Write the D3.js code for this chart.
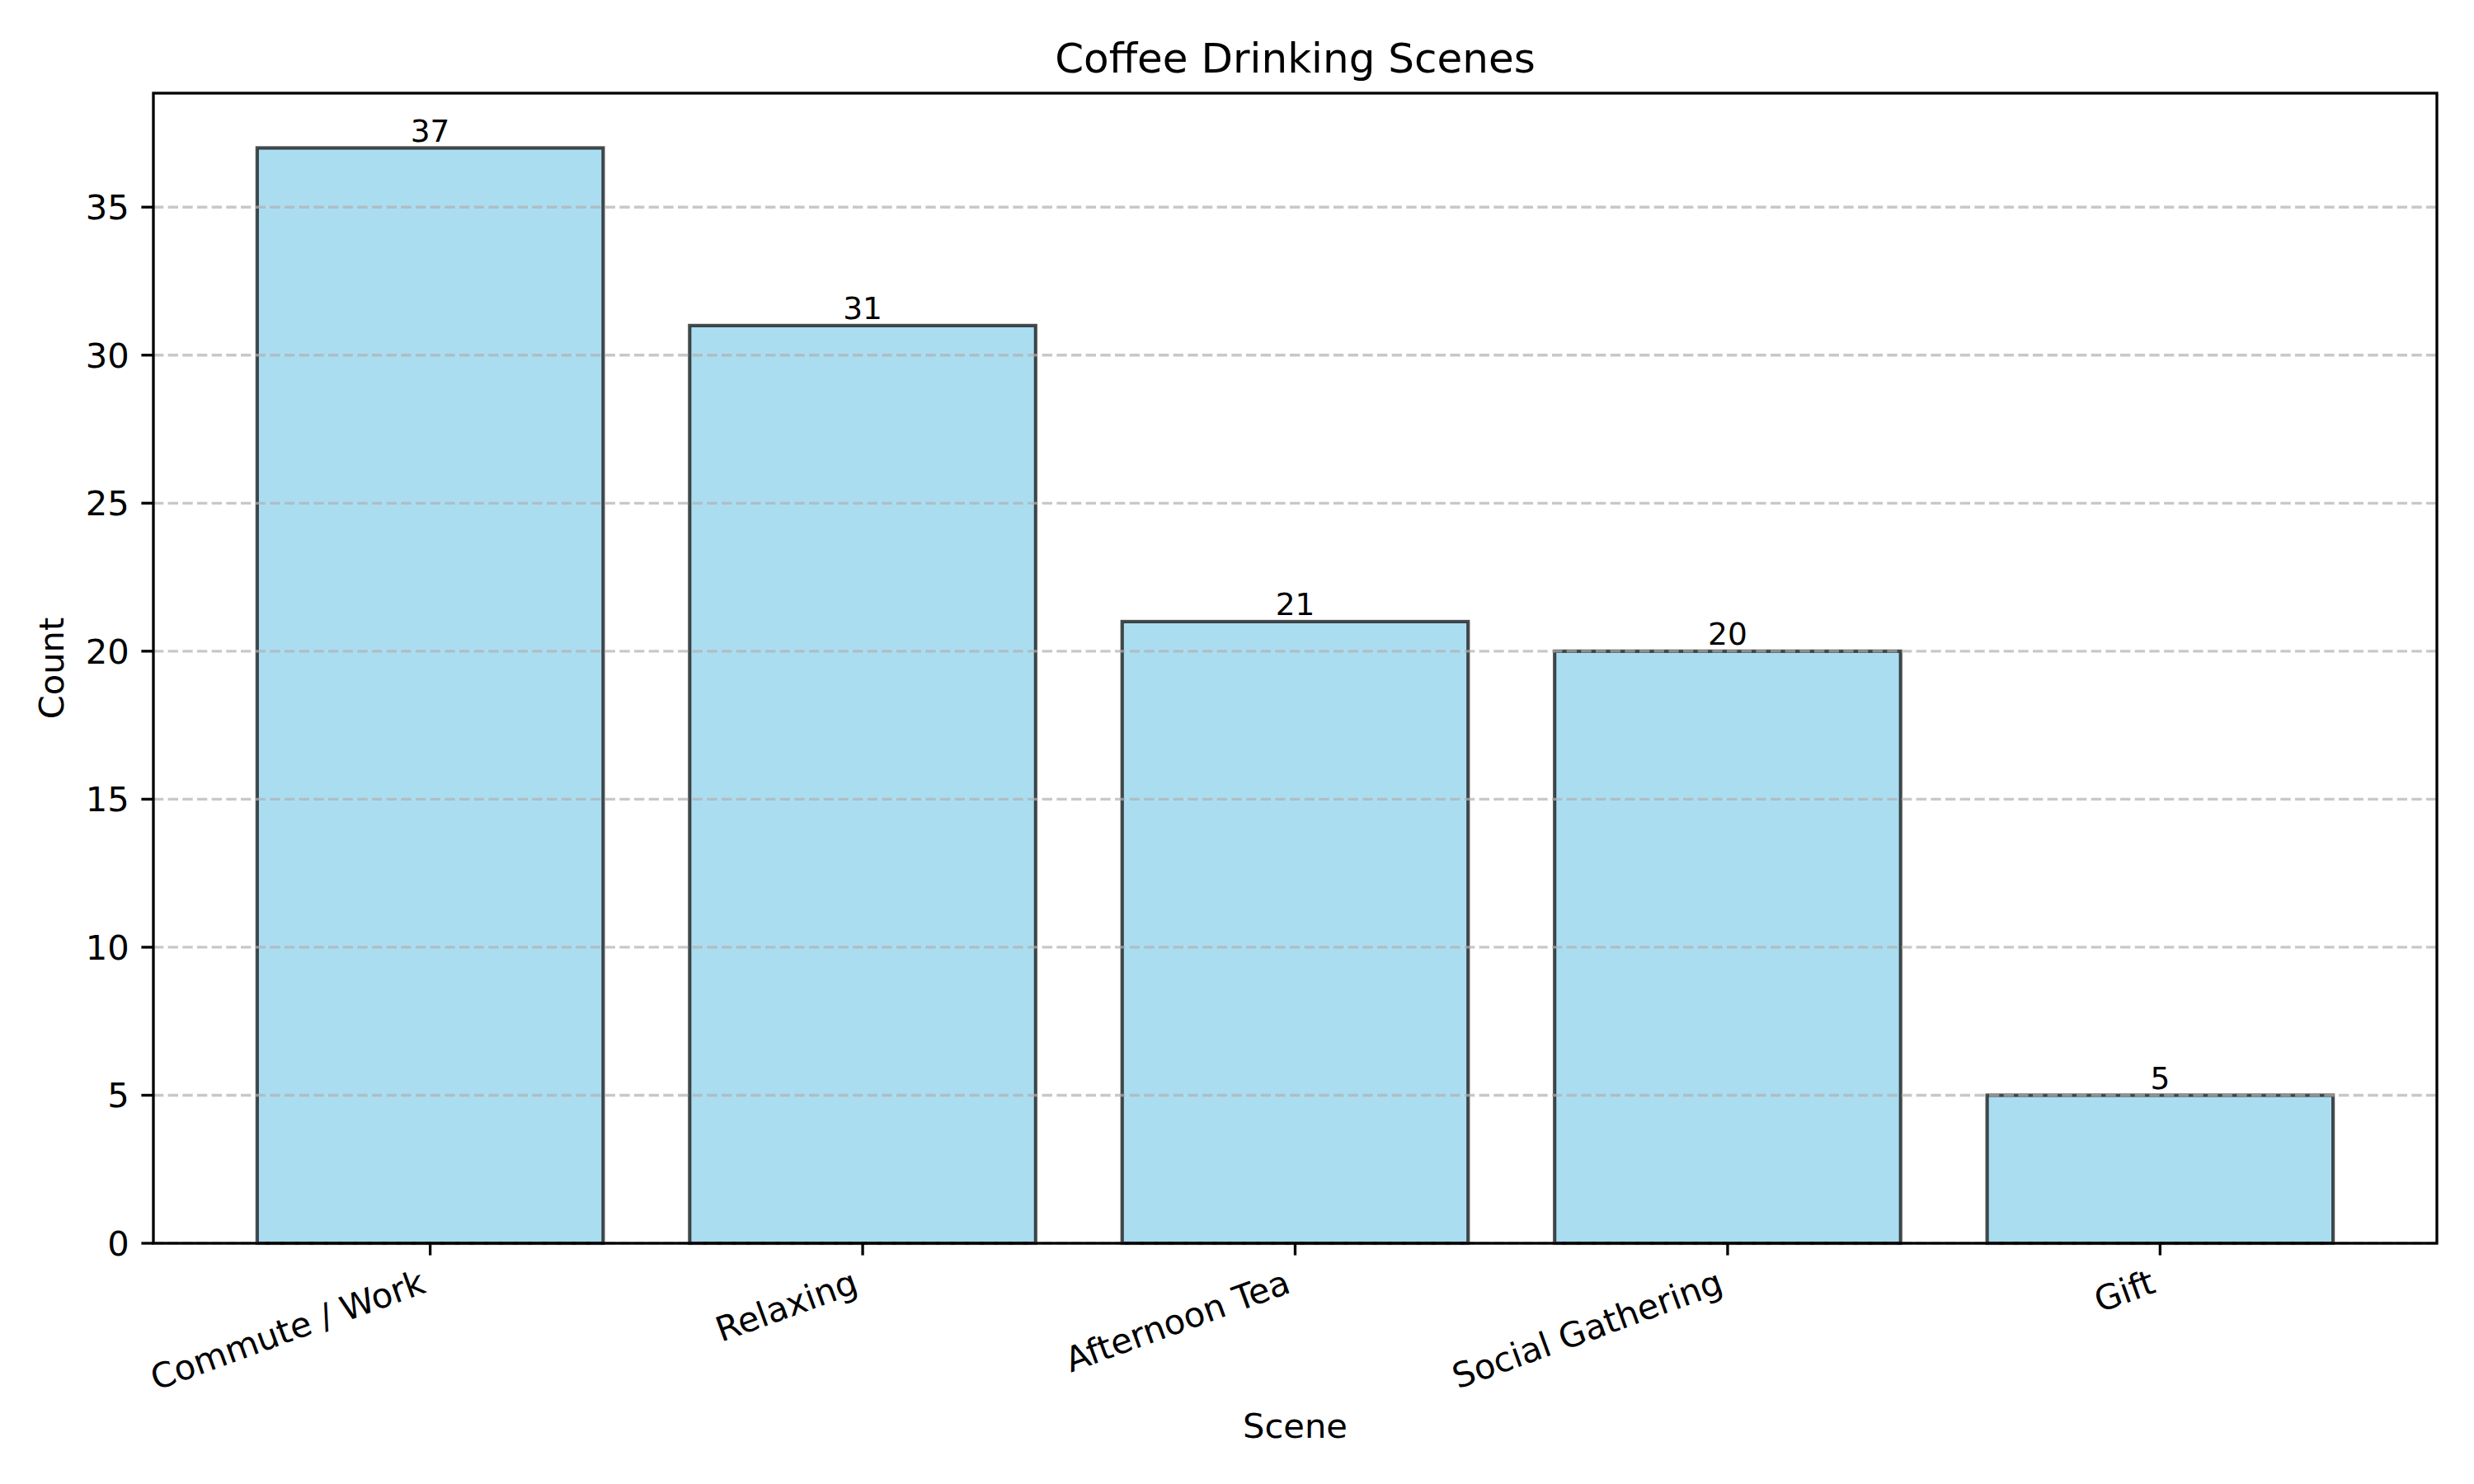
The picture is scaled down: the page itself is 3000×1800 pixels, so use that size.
<!DOCTYPE html>
<html>
<head>
<meta charset="utf-8">
<script src="https://cdn.jsdelivr.net/npm/d3@7"></script>
<style>
  body { margin: 0; background: #fff; }
  text { font-family: "DejaVu Sans", sans-serif; fill: #000; }
</style>
</head>
<body>
<svg id="chart" width="3000" height="1800"></svg>
<script>
var scenes = ["Commute / Work", "Relaxing", "Afternoon Tea", "Social Gathering", "Gift"];
var counts = [37, 31, 21, 20, 5];
var yTicks = [0, 5, 10, 15, 20, 25, 30, 35];

(function chart() {
  var pt = 300 / 72,                 // px per point
      svg = d3.select("#chart"),
      margin = {top: 113, right: 45, bottom: 292, left: 186},
      width = 3000 - margin.left - margin.right,
      height = 1800 - margin.top - margin.bottom,
      fs = 10 * pt,
      tickLen = 3.5 * pt,
      tickPad = 3.5 * pt;

  var x = d3.scaleBand()
      .domain(scenes)
      .range([margin.left, margin.left + width])
      .paddingInner(0.2)
      .paddingOuter(0.24);

  var y = d3.scaleLinear()
      .domain([0, d3.max(counts) * 1.05])
      .range([margin.top + height, margin.top]);

  var data = scenes.map(function(s, i) { return {scene: s, count: counts[i]}; });

  // bars
  svg.append("g").selectAll("rect")
    .data(data)
    .enter().append("rect")
      .attr("x", function(d) { return x(d.scene); })
      .attr("y", function(d) { return y(d.count); })
      .attr("width", x.bandwidth())
      .attr("height", function(d) { return y(0) - y(d.count); })
      .attr("fill", "#87ceeb")
      .attr("fill-opacity", 0.7)
      .attr("stroke", "#000")
      .attr("stroke-opacity", 0.7)
      .attr("stroke-width", 1 * pt);

  // y grid, drawn over the bars like matplotlib
  svg.append("g").selectAll("line")
    .data(yTicks)
    .enter().append("line")
      .attr("x1", margin.left).attr("x2", margin.left + width)
      .attr("y1", function(d) { return y(d); })
      .attr("y2", function(d) { return y(d); })
      .attr("stroke", "#b0b0b0")
      .attr("stroke-opacity", 0.7)
      .attr("stroke-width", 0.8 * pt)
      .attr("stroke-dasharray", (3.7 * 0.8 * pt) + "," + (1.6 * 0.8 * pt));

  // frame
  svg.append("rect")
      .attr("x", margin.left).attr("y", margin.top)
      .attr("width", width).attr("height", height)
      .attr("fill", "none").attr("stroke", "#000")
      .attr("stroke-width", 0.8 * pt);

  // y ticks
  var yg = svg.append("g");
  yg.selectAll("line")
    .data(yTicks)
    .enter().append("line")
      .attr("x1", margin.left - tickLen).attr("x2", margin.left)
      .attr("y1", function(d) { return y(d); })
      .attr("y2", function(d) { return y(d); })
      .attr("stroke", "#000").attr("stroke-width", 0.8 * pt);
  var yLabels = yg.selectAll("text")
    .data(yTicks)
    .enter().append("text")
      .attr("x", margin.left - tickLen - tickPad)
      .attr("y", function(d) { return y(d) + 0.36 * fs; })
      .attr("text-anchor", "end")
      .style("font-size", fs + "px")
      .text(function(d) { return d; });
  var yLabW = 0;
  yLabels.each(function() { yLabW = Math.max(yLabW, this.getComputedTextLength()); });

  // x ticks
  var xg = svg.append("g");
  xg.selectAll("line")
    .data(scenes)
    .enter().append("line")
      .attr("x1", function(d) { return x(d) + x.bandwidth() / 2; })
      .attr("x2", function(d) { return x(d) + x.bandwidth() / 2; })
      .attr("y1", y(0)).attr("y2", y(0) + tickLen)
      .attr("stroke", "#000").attr("stroke-width", 0.8 * pt);

  var rot = 20 * Math.PI / 180,
      asc = 0.76 * fs, desc = 0.24 * fs,
      labTop = y(0) + tickLen + tickPad,
      labBottom = labTop;
  xg.selectAll("text")
    .data(scenes)
    .enter().append("text")
      .style("font-size", fs + "px")
      .text(function(d) { return d; })
      .each(function(d) {
        var w = this.getComputedTextLength(),
            cx = x(d) + x.bandwidth() / 2,
            bx = cx - w * Math.cos(rot) - desc * Math.sin(rot),
            by = labTop + w * Math.sin(rot) + asc * Math.cos(rot);
        labBottom = Math.max(labBottom, labTop + w * Math.sin(rot) + (asc + desc) * Math.cos(rot));
        d3.select(this).attr("transform", "translate(" + bx + "," + by + ") rotate(-20)");
      });

  // value labels
  svg.append("g").selectAll("text")
    .data(data)
    .enter().append("text")
      .attr("x", function(d) { return x(d.scene) + x.bandwidth() / 2; })
      .attr("y", function(d) { return y(d.count) - 0.21 * 9 * pt; })
      .attr("text-anchor", "middle")
      .style("font-size", (9 * pt) + "px")
      .text(function(d) { return d.count; });

  // axis labels and title
  svg.append("text")
      .attr("x", margin.left + width / 2)
      .attr("y", labBottom + 4 * pt + asc)
      .attr("text-anchor", "middle")
      .style("font-size", fs + "px")
      .text("Scene");

  var ylx = margin.left - tickLen - tickPad - yLabW - 4 * pt - desc;
  svg.append("text")
      .attr("transform", "translate(" + ylx + "," + (margin.top + height / 2) + ") rotate(-90)")
      .attr("text-anchor", "middle")
      .style("font-size", fs + "px")
      .text("Count");

  svg.append("text")
      .attr("x", margin.left + width / 2)
      .attr("y", margin.top - 6 * pt)
      .attr("text-anchor", "middle")
      .style("font-size", (12 * pt) + "px")
      .text("Coffee Drinking Scenes");
})();
</script>
</body>
</html>
